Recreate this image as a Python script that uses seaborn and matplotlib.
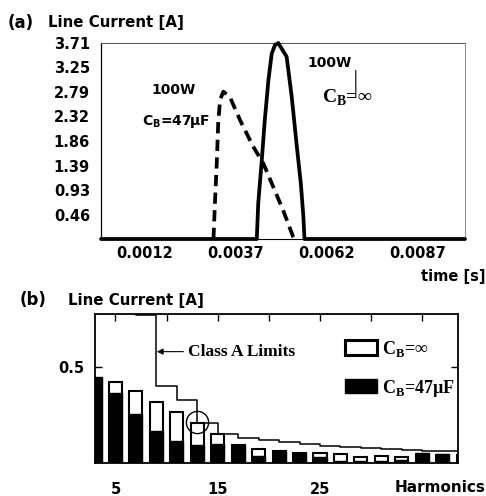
import numpy as np
import pandas as pd
import matplotlib
matplotlib.use("Agg")
import matplotlib.pyplot as plt
from matplotlib.patches import Patch
import seaborn as sns

# ---------------- data ----------------
# panel (a): line current waveforms
t_inf = [0.0, 0.00428, 0.00432, 0.00441, 0.00450, 0.00460, 0.00469, 0.00478, 0.00487,
         0.00510, 0.00524, 0.00538, 0.00549, 0.00556, 0.00559, 0.0100]
i_inf = [0.0, 0.0, 0.68, 1.43, 2.25, 3.01, 3.51, 3.67, 3.71,
         3.45, 2.69, 1.75, 1.05, 0.42, 0.0, 0.0]
t_47 = [0.00309, 0.00313, 0.00318, 0.00322, 0.00327, 0.00336, 0.00354, 0.00382,
        0.00418, 0.00446, 0.00473, 0.00500, 0.00528, 0.00532]
i_47 = [0.0, 0.68, 1.43, 2.19, 2.63, 2.79, 2.69, 2.25,
        1.75, 1.43, 0.99, 0.55, 0.04, 0.0]
a_yticks = [0.46, 0.93, 1.39, 1.86, 2.32, 2.79, 3.25, 3.71]
a_xticks = [0.0012, 0.0037, 0.0062, 0.0087]

# panel (b): harmonic spectrum
harm = [3, 5, 7, 9, 11, 13, 15, 17, 19, 21, 23, 25, 27, 29, 31, 33, 35, 37, 39]
h_inf = [0.44, 0.423, 0.375, 0.319, 0.264, 0.207, 0.149, 0.094, 0.073, 0.060,
         0.050, 0.052, 0.045, 0.033, 0.035, 0.033, 0.045, 0.044, 0.044]
h_47 = [0.45, 0.363, 0.255, 0.167, 0.115, 0.094, 0.097, 0.090, 0.035, 0.062,
        0.054, 0.030, 0.010, 0.008, 0.008, 0.015, 0.050, 0.048, 0.048]
class_a = [2.30, 1.14, 0.77, 0.40, 0.33, 0.21, 0.15, 0.132, 0.118, 0.107,
           0.098, 0.090, 0.083, 0.078, 0.073, 0.068, 0.064, 0.061, 0.058]
b_xticks = [5, 10, 15, 20, 25, 30, 35]
b_xlabels = ["5", "", "15", "", "25", "", ""]

# ---------------- style ----------------
sns.set_style("white")
plt.rcParams["font.family"] = ["DejaVu Sans"]
plt.rcParams["font.weight"] = "bold"
for k in ["text.color", "axes.labelcolor", "xtick.color", "ytick.color",
          "axes.edgecolor"]:
    plt.rcParams[k] = "black"
SANS = "DejaVu Sans"
SERIF = "Liberation Serif"

fig = plt.figure(figsize=(4.86, 4.96), dpi=100)
W, H = 486, 496

def fx(px):
    return px / W

def fy(py):
    return 1 - py / H

# ---------------- panel (a) ----------------
axa = fig.add_axes([fx(101), fy(239), fx(465) - fx(101), fy(43) - fy(239)])
df_inf = pd.DataFrame({"t": t_inf, "i": i_inf})
df_47 = pd.DataFrame({"t": t_47, "i": i_47})
sns.lineplot(data=df_inf, x="t", y="i", ax=axa, color="black", lw=2.7,
             sort=False, clip_on=False, zorder=5)
sns.lineplot(data=df_47, x="t", y="i", ax=axa, color="black", lw=2.7,
             sort=False, clip_on=False, zorder=4)
axa.lines[-1].set_dashes((3.0, 1.7))
axa.set_xlim(0, 0.0100)
axa.set_ylim(0, 3.71)
axa.set_yticks(a_yticks)
axa.set_yticklabels([f"{v:.2f}" for v in a_yticks], fontsize=10.5, fontweight="bold",
                    family=SANS)
axa.set_xticks(a_xticks)
axa.set_xticklabels([f"{v:.4f}" for v in a_xticks], fontsize=10.5, fontweight="bold",
                    family=SANS)
axa.tick_params(axis="y", direction="in", length=3, width=0.6, pad=8, color="#555555",
                labelcolor="black")
axa.tick_params(axis="x", direction="in", length=3, width=0.6, pad=5, color="#777777",
                labelcolor="black")
axa.set_xlabel("")
axa.set_ylabel("")
for s in ["top", "right"]:
    axa.spines[s].set_linewidth(0.7)
    axa.spines[s].set_color("#888888")
axa.spines["top"].set_color("#555555")
axa.spines["left"].set_linewidth(0.9)
axa.spines["left"].set_color("black")
axa.spines["bottom"].set_color("black")

axa.text(0.20, 0.758, "100W", transform=axa.transAxes, ha="center", va="center",
         fontsize=10, fontweight="bold", family=SANS)
axa.text(0.205, 0.60, r"C$_{\mathregular{B}}$=47µF", transform=axa.transAxes,
         ha="center", va="center", fontsize=10, fontweight="bold", family=SANS)
axa.text(0.629, 0.90, "100W", transform=axa.transAxes, ha="center", va="center",
         fontsize=10, fontweight="bold", family=SANS)
axa.text(0.675, 0.72, r"C$_{\mathregular{B}}$=∞", transform=axa.transAxes,
         ha="center", va="center", fontsize=14, fontweight="bold", family=SERIF)
axa.annotate("", xy=(0.700, 0.725), xytext=(0.700, 0.86), xycoords="axes fraction",
             arrowprops=dict(arrowstyle="-", lw=0.8, color="black",
                             shrinkA=0, shrinkB=0))

fig.text(fx(8), fy(23), "(a)", ha="left", va="center", fontsize=12, fontweight="bold",
         family=SANS)
fig.text(fx(48), fy(23), "Line Current [A]", ha="left", va="center", fontsize=10.8,
         fontweight="bold", family=SANS)
fig.text(fx(485), fy(277), "time [s]", ha="right", va="center", fontsize=10.5,
         fontweight="bold", family=SANS)

# ---------------- panel (b) ----------------
axb = fig.add_axes([fx(95), fy(463), fx(458) - fx(95), fy(314) - fy(463)])
df_b = pd.DataFrame({"h": harm, "inf": h_inf, "c47": h_47, "lim": class_a})
sns.barplot(data=df_b, x="h", y="inf", ax=axb, native_scale=True, color="white",
            saturation=1, edgecolor="black", linewidth=1.5, width=0.64,
            errorbar=None, zorder=2)
sns.barplot(data=df_b, x="h", y="c47", ax=axb, native_scale=True, color="black",
            saturation=1, edgecolor="black", linewidth=1.0, width=0.64,
            errorbar=None, zorder=3)
sns.lineplot(data=df_b, x="h", y="lim", ax=axb, color="black", lw=1.1,
             drawstyle="steps-post", zorder=4)
axb.plot([13.0], [0.215], marker="o", ms=16, mfc="none", mec="black", mew=1.0,
         zorder=5)
axb.set_xlim(3.0, 38.5)
axb.set_ylim(0, 0.776)
axb.set_yticks([0.5])
axb.set_yticklabels(["0.5"], fontsize=10.5, fontweight="bold", family=SANS)
axb.set_xticks(b_xticks)
axb.set_xticklabels(b_xlabels, fontsize=10.5, fontweight="bold", family=SANS)
axb.tick_params(axis="x", direction="in", top=True, bottom=False, length=5,
                width=1.0, pad=14, labelcolor="black")
axb.tick_params(axis="y", direction="in", left=True, right=True, length=5,
                width=1.0, pad=8, labelcolor="black")
axb.set_xlabel("")
axb.set_ylabel("")
for s in axb.spines.values():
    s.set_linewidth(1.3)
    s.set_color("black")

axb.annotate("Class A Limits", xy=(9.05, 0.58), xytext=(12.1, 0.58),
             ha="left", va="center", fontsize=12.5, fontweight="bold", family=SERIF,
             arrowprops=dict(arrowstyle="-|>", lw=0.8, color="black",
                             mutation_scale=9, shrinkA=1, shrinkB=0))

handles = [Patch(facecolor="white", edgecolor="black", linewidth=2.2),
           Patch(facecolor="black", edgecolor="black", linewidth=1.0)]
labels = [r"C$_{\mathregular{B}}$=∞", r"C$_{\mathregular{B}}$=47µF"]
axb.legend(handles, labels, loc="upper left", bbox_to_anchor=(0.655, 0.92),
           frameon=False, handlelength=1.75, handleheight=0.85, labelspacing=1.05,
           handletextpad=0.3, borderpad=0.2,
           prop={"family": SERIF, "weight": "bold", "size": 13})

fig.text(fx(20), fy(300), "(b)", ha="left", va="center", fontsize=12, fontweight="bold",
         family=SANS)
fig.text(fx(68), fy(300), "Line Current [A]", ha="left", va="center", fontsize=10.8,
         fontweight="bold", family=SANS)
fig.text(fx(485), fy(488), "Harmonics", ha="right", va="center", fontsize=11,
         fontweight="bold", family=SANS)

fig.savefig("out.png", dpi=100)
